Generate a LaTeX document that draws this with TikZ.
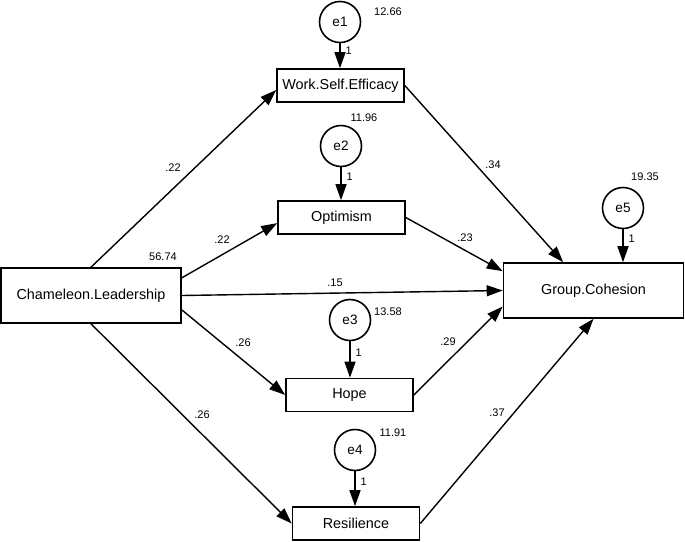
\documentclass[tikz,border=0pt]{standalone}
\usepackage{fontspec}
\setmainfont{Liberation Sans}
\usetikzlibrary{arrows.meta}

\begin{document}
\begin{tikzpicture}[x=.5pt,y=-.5pt,
    var/.style={draw,line width=.8pt,fill=white,minimum width=63.5pt,minimum height=16.5pt,inner sep=1pt,font=\fontsize{7.2}{8}\selectfont},
    bigvar/.style={var,minimum width=90pt,minimum height=27.5pt},
    err/.style={draw,circle,line width=.8pt,fill=white,minimum size=20.5pt,inner sep=0pt,font=\fontsize{6.8}{7}\selectfont},
    num/.style={inner sep=0pt,font=\fontsize{5.5}{6}\selectfont},
    reg/.style={-{Triangle[length=8pt,width=5.5pt]},line width=.7pt}]
    \useasboundingbox (0,0) rectangle (685,541);
    % observed variables
    \node[bigvar] (cl) at (91,295.5) {Chameleon.Leadership};
    \node[var] (wse) at (340.5,85.5) {Work.Self.Efficacy};
    \node[var] (opt) at (341.5,217.5) {Optimism};
    \node[var] (hope) at (349.5,395) {Hope};
    \node[var] (res) at (356,523.5) {Resilience};
    \node[bigvar] (gc) at (593.5,290.5) {Group.Cohesion};
    % error terms
    \node[err] (e1) at (340,22) {e1};
    \node[err] (e2) at (341,146) {e2};
    \node[err] (e3) at (350,320) {e3};
    \node[err] (e4) at (355,450) {e4};
    \node[err] (e5) at (623,208) {e5};
    \foreach \e/\v in {e1/wse,e2/opt,e3/hope,e4/res,e5/gc}
    \draw[reg] (\e.south) -- node[num,pos=.3,anchor=west,xshift=2.5pt] (o\e) {1} (\e.south |- \v.north);
    % variances
    \node[num] (v0) at (163,257) {56.74};
    \node[num] (v1) at (388,12) {12.66};
    \node[num] (v2) at (364,118) {11.96};
    \node[num] (v3) at (388,312) {13.58};
    \node[num] (v4) at (393,433) {11.91};
    \node[num] (v5) at (645,177) {19.35};
    % paths
    \draw[reg] (cl.north) -- (wse.184);
    \draw[reg] (cl.11) -- (opt.185);
    \draw[reg] (cl.east) -- (gc.west);
    \draw[reg] (cl.-9) -- (hope.west);
    \draw[reg] (cl.south) -- (res.west);
    \draw[reg] (wse.east) -- (gc.137);
    \draw[reg] (opt.east) -- (gc.168);
    \draw[reg] (hope.east) -- (gc.190);
    \draw[reg] (res.east) -- (gc.south);
    % path coefficients
    \node[num] (b1) at (173,168) {.22};
    \node[num] (b2) at (222,240) {.22};
    \node[num] (b3) at (335,283) {.15};
    \node[num] (b4) at (243,343) {.26};
    \node[num] (b5) at (202,415) {.26};
    \node[num] (b6) at (493,165) {.34};
    \node[num] (b7) at (465,238) {.23};
    \node[num] (b8) at (448,342) {.29};
    \node[num] (b9) at (497,413) {.37};
  \end{tikzpicture}
\end{document}
